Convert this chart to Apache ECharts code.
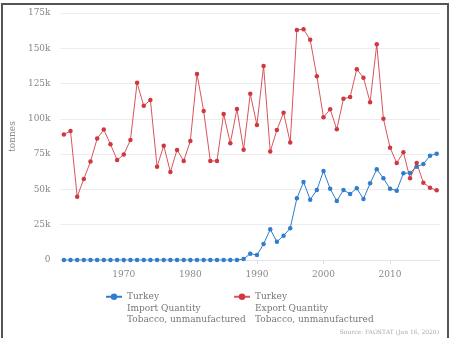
<!DOCTYPE html>
<html>
<head>
<meta charset="utf-8">
<script src="https://cdn.jsdelivr.net/npm/echarts@6/dist/echarts.min.js"></script>
<style>
  html, body { margin: 0; padding: 0; background: #fff; }
  #chart { width: 451px; height: 338px; position: absolute; left: 0; top: 0; }
  #frame { position: absolute; left: 1px; top: 3px; width: 444px; height: 340px;
           border: 2px solid #555; border-bottom: none; pointer-events: none; }
</style>
</head>
<body>
<div id="chart"></div>
<div id="frame"></div>
<script>
const years = [];
for (let y = 1961; y <= 2017; y++) years.push(String(y));

const importQty = [
  0,0,0,0,0,0,0,0,0,0,
  0,0,0,0,0,0,0,0,0,0,
  0,0,0,0,0,0,0,700,4500,3500,
  11300,21700,13000,17200,22500,43700,55300,42700,49600,63100,
  50500,41800,49600,46800,50800,43200,54300,64300,57900,50500,
  49100,61400,61700,66100,68000,73900,75300
];

const exportQty = [
  89000,91400,44900,57400,69700,86000,92400,82000,70900,74700,
  85000,125500,109200,113400,66100,81000,62400,78000,70200,84300,
  131800,105600,70200,70200,103500,82700,107000,78200,117700,95700,
  137500,76800,92100,104400,83200,163000,163500,156000,130200,101100,
  106800,92600,114300,115500,135200,129200,111800,152900,100000,79600,
  68800,76300,57900,68800,54800,51200,49400
];

const importName = 'Turkey\nImport Quantity\nTobacco, unmanufactured';
const exportName = 'Turkey\nExport Quantity\nTobacco, unmanufactured';

const FONT = 'DejaVu Serif';
const BLUE = '#2f7dcb';
const RED = '#d0383f';

const chart = echarts.init(document.getElementById('chart'), null, { renderer: 'canvas' });

const legendText = { fontFamily: FONT, fontSize: 9, color: '#777', lineHeight: 11.5 };
// two blank lines above the name so the icon sits level with the first line
const legendFmt = name => '\n\n' + name;

chart.setOption({
  animation: false,
  backgroundColor: '#fff',
  grid: { left: 53, right: 11, top: 13, bottom: 78 },
  xAxis: {
    type: 'category',
    data: years,
    boundaryGap: true,
    axisLine: { show: true, lineStyle: { color: '#e6e6e6' } },
    axisTick: {
      show: true, alignWithLabel: true, length: 4,
      interval: (i, v) => Number(v) % 10 === 0,
      lineStyle: { color: '#e0e0e0' }
    },
    axisLabel: {
      interval: (i, v) => Number(v) % 10 === 0,
      fontFamily: FONT, fontSize: 9, color: '#888', margin: 10
    },
    splitLine: { show: false }
  },
  yAxis: {
    type: 'value',
    min: 0, max: 175000, interval: 25000,
    name: 'tonnes',
    nameLocation: 'middle',
    nameGap: 31,
    nameTextStyle: { fontFamily: FONT, fontSize: 9, color: '#888' },
    axisLine: { show: false },
    axisTick: { show: false },
    axisLabel: {
      fontFamily: FONT, fontSize: 9, color: '#888', margin: 10,
      formatter: v => v === 0 ? '0' : (v / 1000) + 'k'
    },
    splitLine: { lineStyle: { color: '#ececec' } }
  },
  legend: [
    {
      data: [importName], left: 105, top: 268, padding: 0, itemWidth: 16, itemHeight: 8,
      textStyle: legendText, formatter: legendFmt
    },
    {
      data: [exportName], left: 233, top: 268, padding: 0, itemWidth: 16, itemHeight: 8,
      textStyle: legendText, formatter: legendFmt
    }
  ],
  graphic: [{
    type: 'text', right: 12, top: 329,
    style: { text: 'Source: FAOSTAT (Jun 16, 2020)', fontFamily: FONT, fontSize: 6, fill: '#aaa' }
  }],
  series: [
    {
      name: importName, type: 'line', data: importQty,
      symbol: 'circle', symbolSize: 4.5, showAllSymbol: true,
      itemStyle: { color: BLUE }, lineStyle: { color: BLUE, width: 1 }
    },
    {
      name: exportName, type: 'line', data: exportQty,
      symbol: 'circle', symbolSize: 4.5, showAllSymbol: true,
      itemStyle: { color: RED }, lineStyle: { color: RED, width: 1, opacity: 0.85 }
    }
  ]
});
</script>
</body>
</html>
